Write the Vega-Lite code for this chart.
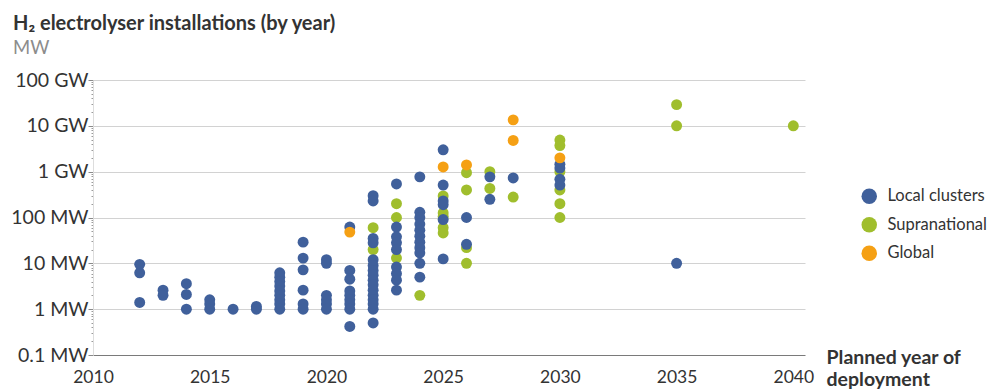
{
  "$schema": "https://vega.github.io/schema/vega-lite/v6.json",
  "autosize": {"type": "none"},
  "width": 712,
  "height": 275,
  "padding": {"left": 93, "top": 80, "right": 182, "bottom": 35},
  "background": "white",
  "title": {
    "text": "H₂ electrolyser installations (by year)",
    "subtitle": "MW",
    "anchor": "start",
    "frame": "group",
    "dx": -80,
    "offset": 13,
    "font": "Lato",
    "fontSize": 20,
    "fontWeight": "bold",
    "color": "#333333",
    "subtitleFont": "Lato",
    "subtitleFontSize": 18.5,
    "subtitleColor": "#8c8c8c",
    "subtitlePadding": 5
  },
  "data": {
    "values": [
      {"year": 2012, "mw": 9.5, "type": "Local clusters"},
      {"year": 2012, "mw": 6.2, "type": "Local clusters"},
      {"year": 2012, "mw": 1.4, "type": "Local clusters"},
      {"year": 2013, "mw": 2.6, "type": "Local clusters"},
      {"year": 2013, "mw": 2.0, "type": "Local clusters"},
      {"year": 2014, "mw": 3.6, "type": "Local clusters"},
      {"year": 2014, "mw": 2.1, "type": "Local clusters"},
      {"year": 2014, "mw": 1.0, "type": "Local clusters"},
      {"year": 2015, "mw": 1.6, "type": "Local clusters"},
      {"year": 2015, "mw": 1.3, "type": "Local clusters"},
      {"year": 2015, "mw": 1.0, "type": "Local clusters"},
      {"year": 2016, "mw": 1.0, "type": "Local clusters"},
      {"year": 2017, "mw": 1.15, "type": "Local clusters"},
      {"year": 2017, "mw": 1.0, "type": "Local clusters"},
      {"year": 2018, "mw": 6.2, "type": "Local clusters"},
      {"year": 2018, "mw": 5.0, "type": "Local clusters"},
      {"year": 2018, "mw": 4.0, "type": "Local clusters"},
      {"year": 2018, "mw": 3.2, "type": "Local clusters"},
      {"year": 2018, "mw": 2.5, "type": "Local clusters"},
      {"year": 2018, "mw": 2.0, "type": "Local clusters"},
      {"year": 2018, "mw": 1.6, "type": "Local clusters"},
      {"year": 2018, "mw": 1.3, "type": "Local clusters"},
      {"year": 2018, "mw": 1.0, "type": "Local clusters"},
      {"year": 2019, "mw": 29, "type": "Local clusters"},
      {"year": 2019, "mw": 13, "type": "Local clusters"},
      {"year": 2019, "mw": 7.2, "type": "Local clusters"},
      {"year": 2019, "mw": 2.6, "type": "Local clusters"},
      {"year": 2019, "mw": 1.3, "type": "Local clusters"},
      {"year": 2019, "mw": 1.0, "type": "Local clusters"},
      {"year": 2020, "mw": 12, "type": "Local clusters"},
      {"year": 2020, "mw": 10, "type": "Local clusters"},
      {"year": 2020, "mw": 2.0, "type": "Local clusters"},
      {"year": 2020, "mw": 1.6, "type": "Local clusters"},
      {"year": 2020, "mw": 1.3, "type": "Local clusters"},
      {"year": 2020, "mw": 1.0, "type": "Local clusters"},
      {"year": 2021, "mw": 62, "type": "Local clusters"},
      {"year": 2021, "mw": 7.0, "type": "Local clusters"},
      {"year": 2021, "mw": 4.5, "type": "Local clusters"},
      {"year": 2021, "mw": 2.5, "type": "Local clusters"},
      {"year": 2021, "mw": 2.0, "type": "Local clusters"},
      {"year": 2021, "mw": 1.6, "type": "Local clusters"},
      {"year": 2021, "mw": 1.3, "type": "Local clusters"},
      {"year": 2021, "mw": 1.0, "type": "Local clusters"},
      {"year": 2021, "mw": 0.42, "type": "Local clusters"},
      {"year": 2022, "mw": 300, "type": "Local clusters"},
      {"year": 2022, "mw": 230, "type": "Local clusters"},
      {"year": 2022, "mw": 35, "type": "Local clusters"},
      {"year": 2022, "mw": 28, "type": "Local clusters"},
      {"year": 2022, "mw": 12, "type": "Local clusters"},
      {"year": 2022, "mw": 9, "type": "Local clusters"},
      {"year": 2022, "mw": 7, "type": "Local clusters"},
      {"year": 2022, "mw": 5.5, "type": "Local clusters"},
      {"year": 2022, "mw": 4.3, "type": "Local clusters"},
      {"year": 2022, "mw": 3.4, "type": "Local clusters"},
      {"year": 2022, "mw": 2.6, "type": "Local clusters"},
      {"year": 2022, "mw": 2.0, "type": "Local clusters"},
      {"year": 2022, "mw": 1.6, "type": "Local clusters"},
      {"year": 2022, "mw": 1.3, "type": "Local clusters"},
      {"year": 2022, "mw": 1.0, "type": "Local clusters"},
      {"year": 2022, "mw": 0.5, "type": "Local clusters"},
      {"year": 2023, "mw": 540, "type": "Local clusters"},
      {"year": 2023, "mw": 62, "type": "Local clusters"},
      {"year": 2023, "mw": 38, "type": "Local clusters"},
      {"year": 2023, "mw": 28, "type": "Local clusters"},
      {"year": 2023, "mw": 20, "type": "Local clusters"},
      {"year": 2023, "mw": 8.3, "type": "Local clusters"},
      {"year": 2023, "mw": 6, "type": "Local clusters"},
      {"year": 2023, "mw": 4.3, "type": "Local clusters"},
      {"year": 2023, "mw": 2.6, "type": "Local clusters"},
      {"year": 2024, "mw": 770, "type": "Local clusters"},
      {"year": 2024, "mw": 130, "type": "Local clusters"},
      {"year": 2024, "mw": 100, "type": "Local clusters"},
      {"year": 2024, "mw": 72, "type": "Local clusters"},
      {"year": 2024, "mw": 53, "type": "Local clusters"},
      {"year": 2024, "mw": 39, "type": "Local clusters"},
      {"year": 2024, "mw": 29, "type": "Local clusters"},
      {"year": 2024, "mw": 22, "type": "Local clusters"},
      {"year": 2024, "mw": 17, "type": "Local clusters"},
      {"year": 2024, "mw": 10, "type": "Local clusters"},
      {"year": 2024, "mw": 5, "type": "Local clusters"},
      {"year": 2025, "mw": 3000, "type": "Local clusters"},
      {"year": 2025, "mw": 510, "type": "Local clusters"},
      {"year": 2025, "mw": 230, "type": "Local clusters"},
      {"year": 2025, "mw": 190, "type": "Local clusters"},
      {"year": 2025, "mw": 90, "type": "Local clusters"},
      {"year": 2025, "mw": 12.5, "type": "Local clusters"},
      {"year": 2026, "mw": 100, "type": "Local clusters"},
      {"year": 2026, "mw": 26, "type": "Local clusters"},
      {"year": 2027, "mw": 770, "type": "Local clusters"},
      {"year": 2027, "mw": 250, "type": "Local clusters"},
      {"year": 2028, "mw": 730, "type": "Local clusters"},
      {"year": 2030, "mw": 1450, "type": "Local clusters"},
      {"year": 2030, "mw": 1200, "type": "Local clusters"},
      {"year": 2030, "mw": 680, "type": "Local clusters"},
      {"year": 2030, "mw": 510, "type": "Local clusters"},
      {"year": 2035, "mw": 10, "type": "Local clusters"},
      {"year": 2022, "mw": 60, "type": "Supranational"},
      {"year": 2022, "mw": 20, "type": "Supranational"},
      {"year": 2023, "mw": 200, "type": "Supranational"},
      {"year": 2023, "mw": 100, "type": "Supranational"},
      {"year": 2023, "mw": 13, "type": "Supranational"},
      {"year": 2024, "mw": 2.0, "type": "Supranational"},
      {"year": 2025, "mw": 295, "type": "Supranational"},
      {"year": 2025, "mw": 126, "type": "Supranational"},
      {"year": 2025, "mw": 105, "type": "Supranational"},
      {"year": 2025, "mw": 60, "type": "Supranational"},
      {"year": 2025, "mw": 46, "type": "Supranational"},
      {"year": 2026, "mw": 950, "type": "Supranational"},
      {"year": 2026, "mw": 400, "type": "Supranational"},
      {"year": 2026, "mw": 22, "type": "Supranational"},
      {"year": 2026, "mw": 10, "type": "Supranational"},
      {"year": 2027, "mw": 1000, "type": "Supranational"},
      {"year": 2027, "mw": 430, "type": "Supranational"},
      {"year": 2028, "mw": 280, "type": "Supranational"},
      {"year": 2030, "mw": 4900, "type": "Supranational"},
      {"year": 2030, "mw": 3700, "type": "Supranational"},
      {"year": 2030, "mw": 1000, "type": "Supranational"},
      {"year": 2030, "mw": 400, "type": "Supranational"},
      {"year": 2030, "mw": 200, "type": "Supranational"},
      {"year": 2030, "mw": 100, "type": "Supranational"},
      {"year": 2035, "mw": 29000, "type": "Supranational"},
      {"year": 2035, "mw": 10000, "type": "Supranational"},
      {"year": 2040, "mw": 10000, "type": "Supranational"},
      {"year": 2021, "mw": 48, "type": "Global"},
      {"year": 2025, "mw": 1270, "type": "Global"},
      {"year": 2026, "mw": 1400, "type": "Global"},
      {"year": 2028, "mw": 13500, "type": "Global"},
      {"year": 2028, "mw": 4800, "type": "Global"},
      {"year": 2030, "mw": 2000, "type": "Global"}
    ]
  },
  "mark": {"type": "circle", "size": 120, "opacity": 1},
  "encoding": {
    "x": {
      "field": "year",
      "type": "quantitative",
      "scale": {"domain": [2010, 2040.5], "nice": false, "zero": false},
      "axis": {
        "values": [2010, 2015, 2020, 2025, 2030, 2035, 2040],
        "format": "d",
        "grid": false,
        "ticks": false,
        "domainColor": "#7a7a7a",
        "domainWidth": 1.2,
        "labelFont": "Lato",
        "labelFontSize": 17.5,
        "labelColor": "#333333",
        "labelPadding": 13,
        "labelFlush": false,
        "labelOverlap": false,
        "title": ["Planned year of", "deployment"],
        "titleFont": "Lato",
        "titleFontSize": 19.5,
        "titleFontWeight": "bold",
        "titleColor": "#333333",
        "titleAlign": "left",
        "titleBaseline": "alphabetic",
        "titleX": 733,
        "titleY": 8,
        "titleLineHeight": 22
      }
    },
    "y": {
      "field": "mw",
      "type": "quantitative",
      "scale": {"type": "log", "domain": [0.1, 100000], "nice": false},
      "axis": {
        "values": [0.1, 0.2, 0.3, 0.4, 0.5, 0.6, 0.7, 0.8, 0.9,
                   1, 2, 3, 4, 5, 6, 7, 8, 9,
                   10, 20, 30, 40, 50, 60, 70, 80, 90,
                   100, 200, 300, 400, 500, 600, 700, 800, 900,
                   1000, 2000, 3000, 4000, 5000, 6000, 7000, 8000, 9000,
                   10000, 20000, 30000, 40000, 50000, 60000, 70000, 80000, 90000,
                   100000],
        "labelExpr": "abs(log(datum.value)/LN10 - round(log(datum.value)/LN10)) < 0.001 ? (datum.value >= 1000 ? format(datum.value/1000, '~g') + ' GW' : format(datum.value, '~g') + ' MW') : ''",
        "labelOverlap": false,
        "labelFlush": false,
        "labelFont": "Lato",
        "labelFontSize": 19.5,
        "labelColor": "#333333",
        "labelPadding": 0,
        "tickSize": {"condition": {"test": "abs(log(datum.value)/LN10 - round(log(datum.value)/LN10)) < 0.001", "value": 5}, "value": 2},
        "tickColor": {"condition": {"test": "abs(log(datum.value)/LN10 - round(log(datum.value)/LN10)) < 0.001", "value": "#8a8a8a"}, "value": "#9a9a9a"},
        "gridOpacity": {"condition": {"test": "abs(log(datum.value)/LN10 - round(log(datum.value)/LN10)) < 0.001 && datum.value > 0.5", "value": 1}, "value": 0},
        "gridColor": "#d2d2d2",
        "domainColor": "#dddddd",
        "title": null
      }
    },
    "color": {
      "field": "type",
      "type": "nominal",
      "scale": {
        "domain": ["Local clusters", "Supranational", "Global"],
        "range": ["#40609b", "#a0be2d", "#f5a014"]
      },
      "legend": {
        "title": null,
        "orient": "none",
        "legendX": 768,
        "legendY": 108,
        "symbolType": "circle",
        "symbolSize": 240,
        "symbolOpacity": 1,
        "symbolStrokeWidth": 0,
        "rowPadding": 11.5,
        "labelOffset": 10,
        "labelFont": "Lato",
        "labelFontSize": 16.5,
        "labelColor": "#333333",
        "padding": 0
      }
    },
    "order": {"field": "type", "sort": "descending"}
  },
  "config": {
    "view": {"stroke": null},
    "font": "Lato"
  }
}
